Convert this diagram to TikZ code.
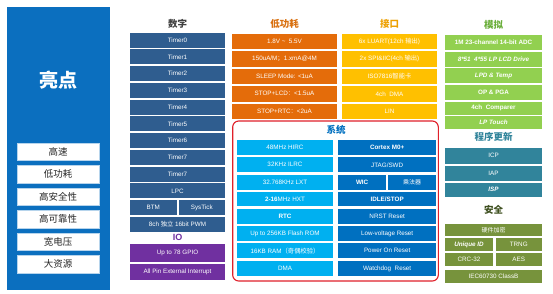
\documentclass[tikz,border=0pt]{standalone}
\usepackage{fontspec}
\setmainfont{Liberation Sans}
\newfontfamily\cjk{Noto Sans CJK SC}
\definecolor{panelblue}{HTML}{0B6FBF}
\definecolor{digblue}{HTML}{2F5D8F}
\definecolor{iopurple}{HTML}{7030A0}
\definecolor{lporange}{HTML}{E46C0A}
\definecolor{ifgold}{HTML}{FFC000}
\definecolor{angreen}{HTML}{92D050}
\definecolor{upteal}{HTML}{31849B}
\definecolor{secolive}{HTML}{77933C}
\definecolor{syslight}{HTML}{00B0F0}
\definecolor{sysdark}{HTML}{0070C0}
\definecolor{sysred}{HTML}{E0202A}
\definecolor{ttlgrey}{HTML}{404040}
\definecolor{ttlorange}{HTML}{D9700F}
\definecolor{ttlgold}{HTML}{EDA000}
\definecolor{ttlgreen}{HTML}{6AAE3A}
\definecolor{ttlolive}{HTML}{3F5020}
\tikzset{
  cell/.style={inner sep=0pt, outer sep=0pt, text=white, font=\fontsize{6.3}{7}\selectfont, anchor=north west, align=center},
  feat/.style={inner sep=0pt, outer sep=0pt, fill=white, draw=white!70!panelblue, line width=0.4pt, text=black!85, font=\cjk\fontsize{9.5}{10}\selectfont, anchor=north west},
  ttl/.style={inner sep=0pt, font=\cjk\bfseries\fontsize{9.5}{10}\selectfont}
}
\newcommand{\bx}[7]{\node[cell,#2,minimum width={#5pt-#3pt},minimum height={#6pt-#4pt}] (#1) at (#3,#4) {#7};}
\newcommand{\ff}[3]{\node[feat,minimum width=82pt,minimum height=17.5pt] (#1) at (17,#2) {#3};}
\begin{document}
\begin{tikzpicture}[x=1pt,y=-1pt]
\useasboundingbox (0,0) rectangle (553,293);
\fill[white] (0,0) rectangle (553,293);
% left panel
\node[inner sep=0pt, fill=panelblue, minimum width=103pt, minimum height=283pt, anchor=north west] (panel) at (7,7) {};
\node[text=white, font=\cjk\bfseries\fontsize{19}{21}\selectfont] (hl) at (58,80) {亮点};
\ff{f1}{143}{高速}
\ff{f2}{165.5}{低功耗}
\ff{f3}{188}{高安全性}
\ff{f4}{210.5}{高可靠性}
\ff{f5}{233}{宽电压}
\ff{f6}{255.5}{大资源}
% digital column
\node[ttl, text=ttlgrey] (tdig) at (177.5,24) {数字};
\bx{t0}{fill=digblue}{130}{32.7}{225}{47.7}{Timer0}
\bx{t1}{fill=digblue}{130}{49.45}{225}{64.45}{Timer1}
\bx{t2}{fill=digblue}{130}{66.2}{225}{81.2}{Timer2}
\bx{t3}{fill=digblue}{130}{82.95}{225}{97.95}{Timer3}
\bx{t4}{fill=digblue}{130}{99.7}{225}{114.7}{Timer4}
\bx{t5}{fill=digblue}{130}{116.45}{225}{131.45}{Timer5}
\bx{t6}{fill=digblue}{130}{133.2}{225}{148.2}{Timer6}
\bx{t7}{fill=digblue}{130}{149.95}{225}{164.95}{Timer7}
\bx{t8}{fill=digblue}{130}{166.7}{225}{181.7}{Timer7}
\bx{lpc}{fill=digblue}{130}{183.45}{225}{198.45}{LPC}
\bx{btm}{fill=digblue}{130}{200.2}{176.5}{215.2}{BTM}
\bx{syst}{fill=digblue}{178.5}{200.2}{225}{215.2}{SysTick}
\bx{pwm}{fill=digblue}{130}{216.95}{225}{231.95}{8ch {\cjk 独立} 16bit PWM}
\node[ttl, text=iopurple, font=\bfseries\fontsize{9}{10}\selectfont] (tio) at (177.5,237.5) {IO};
\bx{gpio}{fill=iopurple}{130}{244}{225}{261.5}{Up to 78 GPIO}
\bx{irq}{fill=iopurple}{130}{264}{225}{279.5}{All Pin External Interrupt}
% low power column
\node[ttl, text=ttlorange] (tlp) at (284.5,24) {低功耗};
\bx{lp1}{fill=lporange}{232}{33.5}{337}{49}{1.8V \textasciitilde\ \ 5.5V}
\bx{lp2}{fill=lporange}{232}{51}{337}{66.5}{150uA/M{\cjk ；}1.xmA@4M}
\bx{lp3}{fill=lporange}{232}{68.5}{337}{84}{SLEEP Mode: <1uA}
\bx{lp4}{fill=lporange}{232}{86}{337}{101.5}{STOP+LCD{\cjk ：}<1.5uA}
\bx{lp5}{fill=lporange}{232}{103.5}{337}{119}{STOP+RTC{\cjk ：}<2uA}
% interface column
\node[ttl, text=ttlgold] (tif) at (389.5,24) {接口};
\bx{if1}{fill=ifgold}{342}{33.5}{437}{49}{6x LUART(12ch {\cjk 输出})}
\bx{if2}{fill=ifgold}{342}{51}{437}{66.5}{2x SPI\&IIC(4ch {\cjk 输出})}
\bx{if3}{fill=ifgold}{342}{68.5}{437}{84}{ISO7816{\cjk 智能卡}}
\bx{if4}{fill=ifgold}{342}{86}{437}{101.5}{4ch\ \ DMA}
\bx{if5}{fill=ifgold}{342}{103.5}{437}{119}{LIN}
% analog column
\node[ttl, text=ttlgreen] (tan) at (493.5,25) {模拟};
\bx{an1}{fill=angreen, font=\bfseries\fontsize{6.3}{7}\selectfont}{445}{35}{542}{49.5}{1M 23-channel 14-bit ADC}
\bx{an2}{fill=angreen, font=\bfseries\itshape\fontsize{6.3}{7}\selectfont}{445}{51.5}{542}{66.5}{8*51\ \ 4*55 LP LCD Drive}
\bx{an3}{fill=angreen, font=\bfseries\itshape\fontsize{6.3}{7}\selectfont}{445}{68.3}{542}{82.8}{LPD \& Temp}
\bx{an4}{fill=angreen, font=\bfseries\fontsize{6.3}{7}\selectfont}{445}{85}{542}{99.5}{OP \& PGA}
\bx{an5}{fill=angreen, font=\bfseries\fontsize{6.3}{7}\selectfont}{445}{101.5}{542}{114.5}{4ch\ \ Comparer}
\bx{an6}{fill=angreen, font=\bfseries\itshape\fontsize{6.3}{7}\selectfont}{445}{116}{542}{128.5}{LP Touch}
% update
\node[ttl, text=upteal] (tup) at (493.5,137) {程序更新};
\bx{icp}{fill=upteal}{445}{147.5}{542}{164}{ICP}
\bx{iap}{fill=upteal}{445}{166}{542}{180.5}{IAP}
\bx{isp}{fill=upteal, font=\bfseries\itshape\fontsize{6.3}{7}\selectfont}{445}{182.5}{542}{197}{ISP}
% security
\node[ttl, text=ttlolive] (tsec) at (493.5,210) {安全};
\bx{hw}{fill=secolive, font=\cjk\fontsize{6}{7}\selectfont}{445}{224}{542}{236}{硬件加密}
\bx{uid}{fill=secolive, font=\bfseries\itshape\fontsize{6.3}{7}\selectfont}{445}{238}{493}{251}{Unique ID}
\bx{trng}{fill=secolive}{495.5}{238}{542}{251}{TRNG}
\bx{crc}{fill=secolive}{445}{253}{493}{265.5}{CRC-32}
\bx{aes}{fill=secolive}{495.5}{253}{542}{265.5}{AES}
\bx{iec}{fill=secolive}{445}{269.5}{542}{283}{IEC60730 ClassB}
% system
\draw[sysred, line width=1.1pt, rounded corners=6pt] (232.7,121) rectangle (438.3,281);
\node[ttl, text=sysdark] (tsys) at (336,129.5) {系统};
\bx{s1}{fill=syslight}{237.3}{140}{332.7}{155}{48MHz HIRC}
\bx{s2}{fill=syslight}{237.3}{157.3}{332.7}{172.3}{32KHz ILRC}
\bx{s3}{fill=syslight}{237.3}{174.6}{332.7}{189.6}{32.768KHz LXT}
\bx{s4}{fill=syslight}{237.3}{191.9}{332.7}{206.4}{\textbf{2-16}MHz HXT}
\bx{s5}{fill=syslight, font=\bfseries\fontsize{6.3}{7}\selectfont}{237.3}{208.6}{332.7}{223.6}{RTC}
\bx{s6}{fill=syslight}{237.3}{226}{332.7}{241}{Up to 256KB Flash ROM}
\bx{s7}{fill=syslight}{237.3}{243.3}{332.7}{258.3}{16KB RAM{\cjk （奇偶校验）}}
\bx{s8}{fill=syslight}{237.3}{261}{332.7}{276}{DMA}
\bx{r1}{fill=sysdark, font=\bfseries\fontsize{6.3}{7}\selectfont}{338.3}{140}{436}{155}{Cortex M0+}
\bx{r2}{fill=sysdark}{338.3}{157.3}{436}{172.3}{JTAG/SWD}
\bx{wic}{fill=sysdark, font=\bfseries\fontsize{6.3}{7}\selectfont}{338.3}{174.6}{386}{189.6}{WIC}
\bx{mul}{fill=sysdark, font=\cjk\fontsize{6}{7}\selectfont}{388.3}{174.6}{436}{189.6}{乘法器}
\bx{r4}{fill=sysdark, font=\bfseries\fontsize{6.3}{7}\selectfont}{338.3}{191.9}{436}{206.4}{IDLE/STOP}
\bx{r5}{fill=sysdark}{338.3}{208.6}{436}{223.6}{NRST Reset}
\bx{r6}{fill=sysdark}{338.3}{226}{436}{241}{Low-voltage Reset}
\bx{r7}{fill=sysdark}{338.3}{243.3}{436}{258.3}{Power On Reset}
\bx{r8}{fill=sysdark}{338.3}{261}{436}{276}{Watchdog\ \ Reset}
\end{tikzpicture}
\end{document}
